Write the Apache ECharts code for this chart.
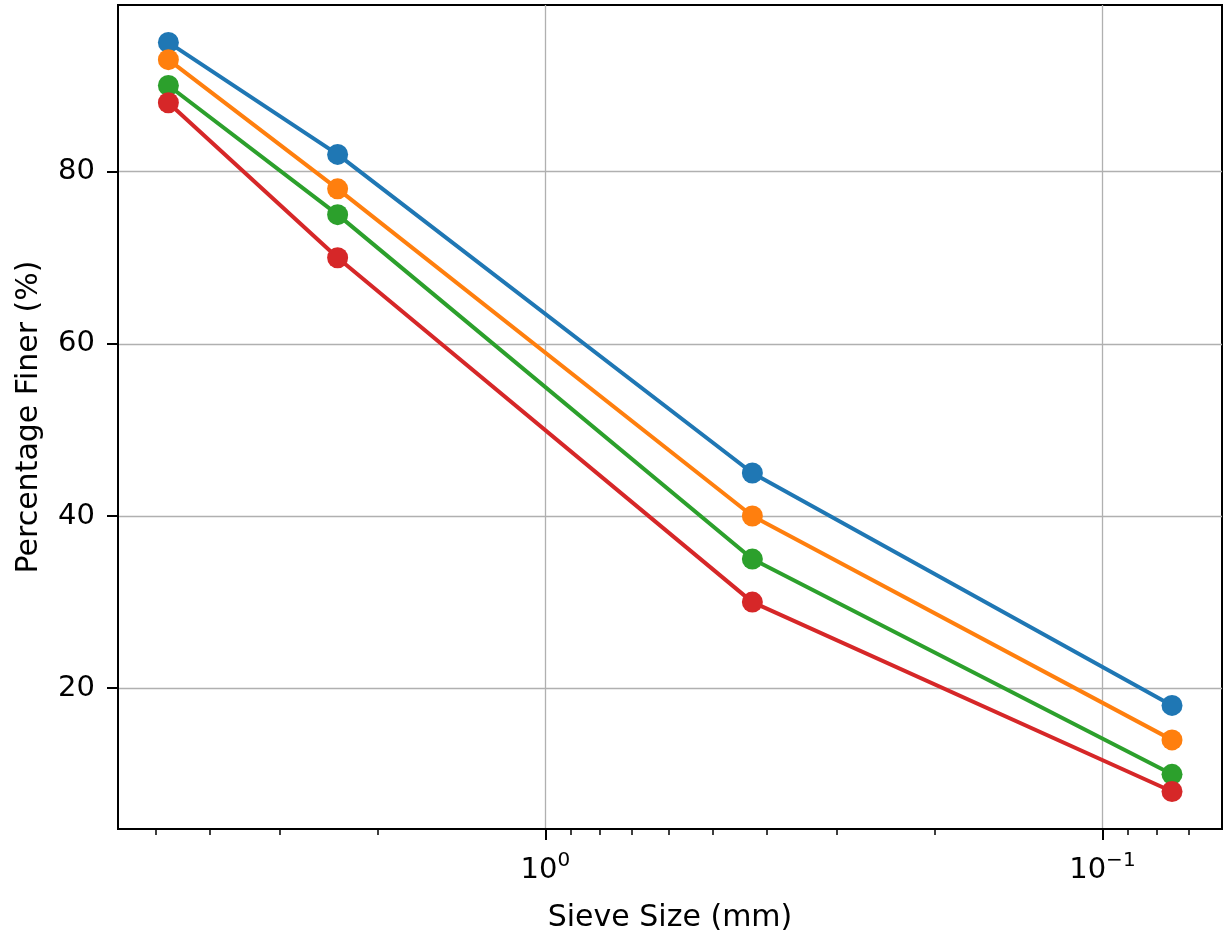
<!DOCTYPE html>
<html>
<head>
<meta charset="utf-8">
<script src="https://cdn.jsdelivr.net/npm/echarts@6/dist/echarts.min.js"></script>
<style>
	html, body { margin: 0; padding: 0; background: #fff; }
	#chart { width: 1224px; height: 938px; }
</style>
</head>
<body>
<div id="chart"></div>
<script>
	// sieve openings (mm) and percent passing for each sample
	var sieveSizes = [4.75, 2.36, 0.425, 0.075]
	var sampleA = [95, 82, 45, 18]
	var sampleB = [93, 78, 40, 14]
	var sampleC = [90, 75, 35, 10]
	var sampleD = [88, 70, 30, 8]
	var xTicks = [0.1, 1]
	var yTicks = [20, 40, 60, 80]

	var colors = ['#1f77b4', '#ff7f0e', '#2ca02c', '#d62728']
	var font = 'DejaVu Sans'

	function toPoints(values) {
		return sieveSizes.map(function (s, i) { return [s, values[i]] })
	}

	function makeSeries(values, color) {
		return {
			type: 'line',
			data: toPoints(values),
			symbol: 'circle',
			symbolSize: 21,
			color: color,
			lineStyle: { color: color, width: 4 },
			itemStyle: { color: color },
			emphasis: { disabled: true },
			animation: false
		}
	}

	function decadeLabel(v) {
		var e = Math.log10(v)
		var r = Math.round(e)
		if (Math.abs(e - r) > 1e-6) return ''
		return '{b|10}{s|' + (r < 0 ? '\u2212' : '') + Math.abs(r) + '}'
	}

	var chart = echarts.init(document.getElementById('chart'))

	chart.setOption({
		animation: false,
		backgroundColor: '#fff',
		textStyle: { fontFamily: font },
		grid: {
			show: true,
			left: 118,
			right: 2,
			top: 5,
			bottom: 109,
			borderColor: '#000',
			borderWidth: 2,
			backgroundColor: '#fff'
		},
		xAxis: {
			type: 'log',
			logBase: 10,
			inverse: true,
			min: 0.061,
			max: 5.85,
			name: 'Sieve Size (mm)',
			nameLocation: 'middle',
			nameGap: 74,
			nameTextStyle: { fontFamily: font, fontSize: 30, color: '#000' },
			axisLine: { lineStyle: { color: '#000', width: 2 } },
			axisTick: { length: 11, customValues: xTicks, lineStyle: { color: '#000', width: 2 } },
			minorTick: { show: true, splitNumber: 9, length: 6, lineStyle: { color: '#000', width: 1.5 } },
			splitLine: { show: true, lineStyle: { color: '#b0b0b0', width: 1.3 } },
			minorSplitLine: { show: false },
			axisLabel: {
				margin: 22,
				customValues: xTicks,
				formatter: decadeLabel,
				rich: {
					b: { fontFamily: font, fontSize: 29, color: '#000', verticalAlign: 'bottom', lineHeight: 34 },
					s: { fontFamily: font, fontSize: 20, color: '#000', verticalAlign: 'top', lineHeight: 34 }
				}
			}
		},
		yAxis: {
			type: 'value',
			min: 3.65,
			max: 99.35,
			splitNumber: 5,
			name: 'Percentage Finer (%)',
			nameLocation: 'middle',
			nameGap: 74,
			nameTextStyle: { fontFamily: font, fontSize: 30, color: '#000' },
			axisLine: { show: true, lineStyle: { color: '#000', width: 2 } },
			axisTick: { show: true, length: 11, customValues: yTicks, lineStyle: { color: '#000', width: 2 } },
			splitLine: { show: true, lineStyle: { color: '#b0b0b0', width: 1.3 } },
			axisLabel: {
				margin: 23,
				customValues: yTicks,
				fontFamily: font,
				fontSize: 29,
				color: '#000',
				formatter: function (v) { return yTicks.indexOf(v) >= 0 ? String(v) : '' }
			}
		},
		series: [
			makeSeries(sampleA, colors[0]),
			makeSeries(sampleB, colors[1]),
			makeSeries(sampleC, colors[2]),
			makeSeries(sampleD, colors[3])
		]
	})
</script>
</body>
</html>
